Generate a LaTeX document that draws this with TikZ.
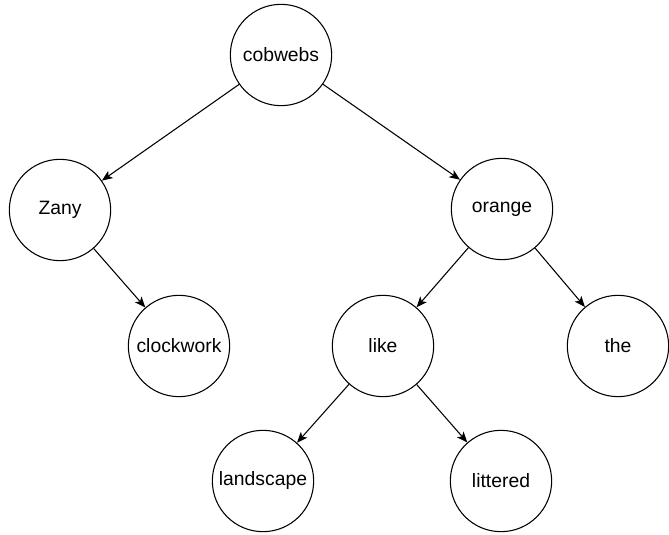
\documentclass[tikz,border=0pt]{standalone}
\usepackage{fontspec}
\setmainfont{Liberation Sans}
\usetikzlibrary{arrows.meta}

\tikzset{
	word/.style={circle, draw, line width=0.8pt, minimum size=76pt, inner sep=0pt,
		font=\fontsize{14.5}{17}\selectfont},
	link/.style={line width=0.8pt, -{Stealth[length=8pt,width=6.5pt,inset=2pt]}}
}

\begin{document}
\begin{tikzpicture}[x=0.75pt, y=-0.75pt]

	\useasboundingbox (0,0) rectangle (669,535);

	\node[word] (cobwebs) at (281,55) {cobwebs};
	\node[word] (zany) at (60,210) {Zany};
	\node[word] (orange) at (502,209) {orange};
	\node[word] (clockwork) at (179,346) {clockwork};
	\node[word] (like) at (383,346) {like};
	\node[word] (the) at (618,346) {the};
	\node[word] (landscape) at (263,481) {landscape};
	\node[word] (littered) at (501,481) {littered};

	\draw[link] (cobwebs) -- (zany);
	\draw[link] (cobwebs) -- (orange);
	\draw[link] (zany) -- (clockwork);
	\draw[link] (orange) -- (like);
	\draw[link] (orange) -- (the);
	\draw[link] (like) -- (landscape);
	\draw[link] (like) -- (littered);

\end{tikzpicture}
\end{document}
